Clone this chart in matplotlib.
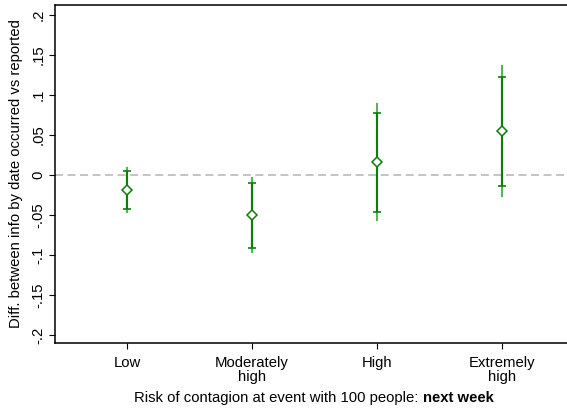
import matplotlib
matplotlib.use("Agg")
import matplotlib.pyplot as plt
import numpy as np

categories = ["Low", "Moderately\nhigh", "High", "Extremely\nhigh"]
estimates = [-0.019, -0.050, 0.016, 0.055]
ci90_low = [-0.043, -0.091, -0.046, -0.014]
ci90_high = [0.005, -0.010, 0.078, 0.123]
ci95_low = [-0.047, -0.097, -0.058, -0.027]
ci95_high = [0.010, -0.003, 0.090, 0.137]
yticks = [-0.2, -0.15, -0.1, -0.05, 0, 0.05, 0.1, 0.15, 0.2]
yticklabels = ["-.2", "-.15", "-.1", "-.05", "0", ".05", ".1", ".15", ".2"]

plt.rcParams['font.family'] = ['Liberation Sans', 'DejaVu Sans']
FS = 10.7

W, H = 567, 411
fig = plt.figure(figsize=(W / 100, H / 100), dpi=100)
ax = fig.add_axes([55 / W, 1 - 343 / H, 1 - 55 / W, (343 - 5) / H])

x = np.arange(1, len(categories) + 1)
dark = '#0a800a'
light = '#5cb25c'

ax.axhline(0, color='#b4b4b4', lw=1.1, dashes=(5.2, 3.0), zorder=1)
ax.vlines(x, ci95_low, ci95_high, color=light, lw=1.5, zorder=2)
ax.vlines(x, ci90_low, ci90_high, color=dark, lw=1.5, zorder=3)
capw = 0.033
ax.hlines(ci90_low, x - capw, x + capw, color=dark, lw=1.2, zorder=3)
ax.hlines(ci90_high, x - capw, x + capw, color=dark, lw=1.2, zorder=3)
ax.plot(x, estimates, linestyle='none', marker='D', ms=5.2, mfc='white',
        mec=dark, mew=1.1, zorder=4)

ax.set_xlim(0.424, 4.52)
ax.set_ylim(-0.21, 0.2125)
ax.set_xticks(x)
ax.set_xticklabels(categories, fontsize=FS, linespacing=1.0)
ax.set_yticks(yticks)
ax.set_yticklabels(yticklabels, fontsize=FS, rotation=90, va='center')
ax.tick_params(axis='both', direction='out', length=4, width=0.8, pad=3)
ax.tick_params(axis='x', pad=5)
for s in ['left', 'top', 'bottom']:
    ax.spines[s].set_linewidth(1.1)
    ax.spines[s].set_color('black')
ax.spines['right'].set_visible(False)

ax.set_ylabel("Diff. between info by date occurred vs reported", fontsize=FS, labelpad=6)

# x label with bold ending
ylab = 1 - 398 / H
t1 = fig.text(0, ylab, "Risk of contagion at event with 100 people: ", fontsize=FS,
              va='center', ha='left')
t2 = fig.text(0, ylab, "next week", fontsize=FS, fontweight='bold', va='center', ha='left')
fig.canvas.draw()
r = fig.canvas.get_renderer()
w1 = t1.get_window_extent(r).width
w2 = t2.get_window_extent(r).width
cx = 314
start = cx - (w1 + w2) / 2
t1.set_x(start / W)
t2.set_x((start + w1) / W)

fig.savefig("out.png", dpi=100)
